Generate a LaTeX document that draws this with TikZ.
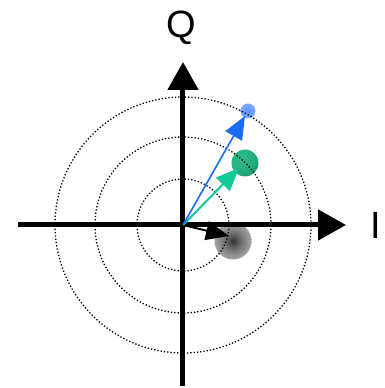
\documentclass[tikz,border=0pt]{standalone}
\usepackage{fontspec}
\setmainfont{Liberation Sans}
\usetikzlibrary{arrows.meta, positioning, calc}
\definecolor{iqblue}{HTML}{1A6CF0}
\definecolor{iqgreen}{HTML}{12C998}
\definecolor{greenlite}{HTML}{2BBA8A}
\definecolor{greendark}{HTML}{0A6A4A}
\definecolor{bluelite}{HTML}{A8C6FF}
\definecolor{bluemid}{HTML}{5A92FF}
\pgfdeclareradialshading{grayblob}{\pgfpoint{0bp}{0bp}}{%
  color(0bp)=(black!80); color(12bp)=(black!55); color(30bp)=(black!28);
  color(50bp)=(black!10); color(100bp)=(black!10)}
\pgfdeclareradialshading{greenblob}{\pgfpoint{-12bp}{12bp}}{%
  color(0bp)=(greenlite); color(20bp)=(greenlite!90!greendark);
  color(68bp)=(greendark); color(100bp)=(greendark)}
\pgfdeclareradialshading{blueblob}{\pgfpoint{0bp}{0bp}}{%
  color(0bp)=(bluemid); color(50bp)=(bluelite); color(100bp)=(bluelite)}
\tikzset{
  axis/.style={line width=5pt, -{Triangle[length=28pt, width=30pt]}},
  ring/.style={dotted, line width=1.3pt},
  vec/.style={line width=#1, -{Triangle[length=23pt, width=19pt]}},
  blob/.style={circle, inner sep=0pt, minimum size=#1},
}
\begin{document}
\begin{tikzpicture}[x=1pt, y=1pt, font=\fontsize{38}{40}\selectfont]
  \useasboundingbox (-183,-163) rectangle (201,225);
  \coordinate (o) at (0,0);
  % symbols
  \node[blob=37pt, shading=grayblob] (sgray) at (50,-16) {};
  \node[blob=27pt, shading=greenblob] (sgreen) at (62,62) {};
  \node[blob=15pt, shading=blueblob] (sblue) at (65,114) {};
  % rings
  \foreach \r in {46,88,128}{%
    \draw[ring] (o) circle (\r);}
  % axes
  \coordinate (west) at (-165,0);
  \coordinate (east) at (163,0);
  \coordinate (south) at (0,-161);
  \coordinate (north) at (0,163);
  \draw[axis] (west) -- (east);
  \draw[axis] (south) -- (north);
  \node (qlab) at (-2,197) {Q};
  \node (ilab) at (193,0) {I};
  % vectors
  \coordinate (tgray) at (46,-11);
  \coordinate (tgreen) at (56,57);
  \coordinate (tblue) at (62,109);
  \draw[vec=2pt, black] (o) -- (tgray);
  \draw[vec=2pt, iqgreen] (o) -- (tgreen);
  \draw[vec=1.6pt, iqblue] (o) -- (tblue);
\end{tikzpicture}
\end{document}
